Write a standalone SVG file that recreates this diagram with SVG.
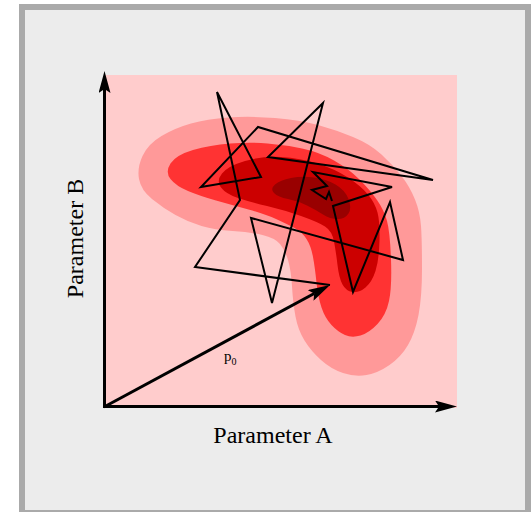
<svg xmlns="http://www.w3.org/2000/svg" width="531" height="512" viewBox="0 0 531 512">
<style>
.lbl{font-family:"Liberation Serif","Times New Roman",serif;fill:#000}
.axis{stroke:#000;stroke-width:3;fill:none}
.walk{stroke:#000;stroke-width:2;fill:none;stroke-linejoin:miter}
</style>
<defs>
<marker id="ah" markerUnits="userSpaceOnUse" viewBox="0 0 22 12" markerWidth="22" markerHeight="12" refX="4" refY="6" orient="auto">
<path d="M0,0 L22,6 L0,12 L4,6 Z" fill="#000"/>
</marker>
</defs>
<g id="frame">
<rect x="22" y="7" width="506" height="506" fill="#ececec" stroke="#aaaaaa" stroke-width="6"/>
</g>
<g id="plot">
<rect x="105" y="75" width="352" height="333" fill="#ffcccc"/>
<path fill="#ff9999" d="M139,179 Q137,168 142.5,156 Q148,144 161.5,136 Q175,128 191,123.5 Q207,119 228.5,117.5 Q250,116 275,118 Q300,120 318,125 Q336,130 353,137 Q370,144 381.5,154.5 Q393,165 401.5,176 Q410,187 415,199.5 Q420,212 421,226 Q422,240 422,268.5 Q422,297 418.5,315 Q415,333 408,345 Q401,357 389.5,365 Q378,373 366.5,375 Q355,377 343,373 Q331,369 321,360 Q311,351 304.5,340.5 Q298,330 295.5,316.5 Q293,303 292,286.5 Q291,270 288,260 Q285,250 280,244 Q275,238 262.5,235 Q250,232 232.5,231 Q215,230 201.5,226 Q188,222 175.5,215 Q163,208 152,199 Q141,190 139,179 Z"/>
<path fill="#ff3333" d="M170.5,179 Q165,172 170.5,163.5 Q176,155 193,150 Q210,145 230,143.5 Q250,142 267.5,143.5 Q285,145 302,148.5 Q319,152 334,160.5 Q349,169 359.5,179.5 Q370,190 377,200 Q384,210 387,221 Q390,232 391,259.5 Q392,287 389,301 Q386,315 377.5,324 Q369,333 360.5,335.5 Q352,338 345,335 Q338,332 331.5,325 Q325,318 321.5,307.5 Q318,297 316.5,282.5 Q315,268 313,257 Q311,246 306.5,239 Q302,232 294.5,228 Q287,224 276,219 Q265,214 248.5,209.5 Q232,205 216,200.5 Q200,196 188,191 Q176,186 170.5,179 Z"/>
<path fill="#cc0000" d="M221,187.5 Q216,181 222,173.5 Q228,166 245,161 Q262,156 281,157 Q300,158 317.5,163.5 Q335,169 348,177.5 Q361,186 368,194.5 Q375,203 377.5,212.5 Q380,222 379.5,241 Q379,260 375.5,271 Q372,282 365.5,287.5 Q359,293 352.5,292 Q346,291 342.5,284.5 Q339,278 337.5,265 Q336,252 334,241.5 Q332,231 325,226.5 Q318,222 301,216 Q284,210 267,206 Q250,202 238,198 Q226,194 221,187.5 Z"/>
<path fill="#990000" d="M274,193 Q270,189 275,184.5 Q280,180 291,178 Q302,176 314,177.5 Q326,179 335.5,184.5 Q345,190 348.5,199 Q352,208 348.5,213.5 Q345,219 337.5,219 Q330,219 323,214.5 Q316,210 307,205.5 Q298,201 288,199 Q278,197 274,193 Z"/>
</g>
<g id="connectors">
<line class="axis" x1="104.5" y1="408" x2="104.5" y2="89" marker-end="url(#ah)"/>
<line class="axis" x1="103" y1="406.5" x2="439" y2="406.5" marker-end="url(#ah)"/>
<line class="axis" x1="104" y1="407" x2="314.2" y2="293.5" marker-end="url(#ah)"/>
<path class="walk" d="M330,285 L195,267 L240,200 L217,92 L261,177 L201,187 L258,127 L433,180 L268,157 L323,103 L272,303 L251,218 L403,260 L390,202 L353,292 L333,206 L392,187 L313,172 L327,186 L312,190 L326,199 L329,192 L332,201"/>
</g>
<g id="labels">
<text class="lbl" x="273" y="443" font-size="24" text-anchor="middle">Parameter A</text>
<text class="lbl" font-size="24" text-anchor="middle" transform="translate(83,238.5) rotate(-90)">Parameter B</text>
<text class="lbl" x="224" y="361" font-size="15">p<tspan font-size="10" dy="4">0</tspan></text>
</g>
</svg>
